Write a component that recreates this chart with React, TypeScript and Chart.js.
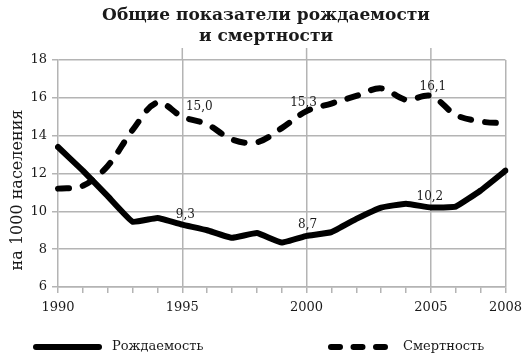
import React, { useEffect, useRef } from 'react';
import { Chart, registerables } from 'chart.js';
Chart.register(...registerables);

const years = ['1990','1991','1992','1993','1994','1995','1996','1997','1998','1999','2000','2001','2002','2003','2004','2005','2006','2007','2008'];
const majorYears = ['1990','1995','2000','2005','2008'];
const birthRate = [13.4, 12.15, 10.8, 9.45, 9.65, 9.3, 9.0, 8.6, 8.85, 8.35, 8.7, 8.9, 9.6, 10.2, 10.4, 10.2, 10.25, 11.1, 12.15];
const deathRate = [11.2, 11.35, 12.4, 14.3, 15.75, 15.0, 14.6, 13.8, 13.65, 14.4, 15.3, 15.7, 16.1, 16.5, 15.9, 16.1, 15.1, 14.75, 14.65];
const labelYears = ['1995', '2000', '2005'];
const titleLines = ['Общие показатели рождаемости', 'и смертности'];
const yAxisTitle = 'на 1000 населения';
const seriesNames = ['Рождаемость', 'Смертность'];

const SERIF = '"DejaVu Serif", serif';
const GRID = '#b4b4b4';
const INK = '#1a1a1a';

const fmt = (v: number) => v.toFixed(1).replace('.', ',');

const extrasPlugin = {
  id: 'extras',
  afterDatasetsDraw(chart: any) {
    const ctx = chart.ctx;
    const { top } = chart.chartArea;
    const xs = chart.scales.x;
    ctx.save();
    // grid extensions above plot
    ctx.strokeStyle = GRID;
    ctx.lineWidth = 1.5;
    ['1995', '2000', '2005'].forEach((yr) => {
      const x = xs.getPixelForValue(years.indexOf(yr));
      ctx.beginPath();
      ctx.moveTo(x, top - 12);
      ctx.lineTo(x, top);
      ctx.stroke();
    });
    // title
    ctx.fillStyle = INK;
    ctx.textAlign = 'center';
    ctx.textBaseline = 'middle';
    ctx.font = 'bold 17px ' + SERIF;
    titleLines.forEach((t, i) => ctx.fillText(t, 266, 16 + i * 21));
    // data labels
    ctx.font = '12px ' + SERIF;
    const offs = [
      [[3, -10], [1, -11], [-1, -11]],
      [[17, -10], [-3, -8], [2, -9]],
    ];
    [birthRate, deathRate].forEach((arr, di) => {
      const meta = chart.getDatasetMeta(di);
      labelYears.forEach((yr, k) => {
        const i = years.indexOf(yr);
        const pt = meta.data[i];
        ctx.fillText(fmt(arr[i]), pt.x + offs[di][k][0], pt.y + offs[di][k][1]);
      });
    });
    // y axis title
    ctx.save();
    ctx.translate(18, 190);
    ctx.rotate(-Math.PI / 2);
    ctx.font = '16px ' + SERIF;
    ctx.fillText(yAxisTitle, 0, 0);
    ctx.restore();
    // legend
    const ly = 347;
    ctx.lineWidth = 6;
    ctx.lineCap = 'round';
    ctx.strokeStyle = '#000';
    ctx.beginPath();
    ctx.moveTo(36, ly);
    ctx.lineTo(99, ly);
    ctx.stroke();
    ctx.setLineDash([9, 13.5]);
    ctx.beginPath();
    ctx.moveTo(331, ly);
    ctx.lineTo(386, ly);
    ctx.stroke();
    ctx.setLineDash([]);
    ctx.font = '13px ' + SERIF;
    ctx.textAlign = 'left';
    ctx.fillText(seriesNames[0], 112, ly);
    ctx.fillText(seriesNames[1], 403, ly);
    ctx.restore();
  },
};

export default function App() {
  const ref = useRef<HTMLCanvasElement>(null);
  useEffect(() => {
    if (!ref.current) return;
    const chart = new Chart(ref.current, {
      type: 'line',
      data: {
        labels: years,
        datasets: [
          {
            label: seriesNames[0],
            data: birthRate,
            borderColor: '#000',
            borderWidth: 6,
            pointRadius: 0,
            tension: 0.1,
            borderCapStyle: 'round',
            borderJoinStyle: 'round',
          },
          {
            label: seriesNames[1],
            data: deathRate,
            borderColor: '#000',
            borderWidth: 6,
            pointRadius: 0,
            tension: 0.35,
            borderDash: [11, 14],
            borderCapStyle: 'round',
            borderJoinStyle: 'round',
          },
        ],
      },
      options: {
        animation: false,
        responsive: true,
        maintainAspectRatio: false,
        layout: { padding: { left: 0, right: 21, top: 60, bottom: 0 } },
        plugins: {
          legend: { display: false },
          tooltip: { enabled: false },
          title: { display: false },
        },
        scales: {
          x: {
            type: 'category',
            grid: {
              color: (c: any) => (c.tick && majorYears.includes(years[c.index]) && c.index !== 0 ? GRID : 'transparent'),
              tickColor: GRID,
              lineWidth: 1.5,
              tickLength: 6,
            },
            border: { color: GRID, width: 1.5 },
            ticks: {
              autoSkip: false,
              maxRotation: 0,
              color: INK,
              font: { family: SERIF, size: 13 },
              padding: 7,
              callback: (_v: any, i: number) => (majorYears.includes(years[i]) ? years[i] : ''),
            },
            afterFit: (s: any) => { s.height = 72; },
          },
          y: {
            min: 6,
            max: 18,
            grid: { color: GRID, lineWidth: 1.5, tickLength: 6 },
            border: { color: GRID, width: 1.5 },
            ticks: { stepSize: 2, color: INK, font: { family: SERIF, size: 13 }, padding: 5 },
            afterFit: (s: any) => { s.width = 58; },
          },
        },
      },
      plugins: [extrasPlugin],
    } as any);
    return () => chart.destroy();
  }, []);
  return (
    <div style={{ position: 'absolute', left: 0, top: 0, width: 529, height: 359 }}>
      <canvas ref={ref} />
    </div>
  );
}
